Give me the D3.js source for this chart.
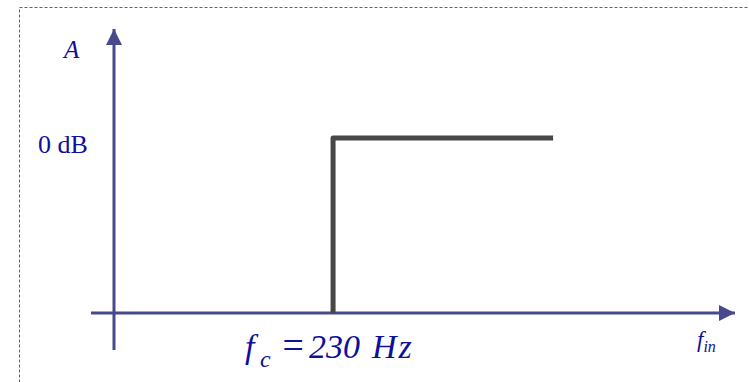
<!DOCTYPE html>
<html>
<head>
<meta charset="utf-8">
<script src="https://cdn.jsdelivr.net/npm/d3@7"></script>
<style>
  body { margin: 0; background: #fff; }
  svg { display: block; }
  text { font-family: "Liberation Serif", "Times New Roman", serif; fill: #0f0f9a; }
</style>
</head>
<body>
<svg id="chart" width="749" height="382"></svg>
<script>
// high-pass response: cutoff and passband
let cutoff = 230,
    fEnd = 461,
    fMax = 652;
let response = [[cutoff, 0], [cutoff, 1], [fEnd, 1]];
let yTicks = ["0 dB"];

let width = 749,
    height = 382;

function make_scales() {
  return {
    x: d3.scaleLinear().domain([0, fMax]).range([114, 735]),
    y: d3.scaleLinear().domain([0, 1]).range([313, 138])
  }
}

function draw(scales) {
  let svg = d3.select("#chart");
  let axisColor = "#474a8c";

  // dashed frame
  svg.append("rect")
    .attr("x", 19.5).attr("y", 7.5)
    .attr("width", 760).attr("height", 400)
    .attr("fill", "none")
    .attr("stroke", "#5a5a96")
    .attr("stroke-width", 1)
    .attr("stroke-dasharray", "3,2");

  let defs = svg.append("defs");
  defs.append("marker")
    .attr("id", "arrow")
    .attr("viewBox", "0 0 10 10")
    .attr("refX", 10).attr("refY", 5)
    .attr("markerUnits", "userSpaceOnUse")
    .attr("markerWidth", 16).attr("markerHeight", 16)
    .attr("orient", "auto")
    .append("path")
    .attr("d", "M0,0 L10,5 L0,10 Z")
    .attr("fill", axisColor);

  let x0 = scales.x(0), y0 = scales.y(0);

  // axes
  svg.append("line")
    .attr("x1", x0).attr("y1", 350)
    .attr("x2", x0).attr("y2", 29)
    .attr("stroke", axisColor).attr("stroke-width", 3)
    .attr("marker-end", "url(#arrow)");
  svg.append("line")
    .attr("x1", 91).attr("y1", y0)
    .attr("x2", scales.x(fMax)).attr("y2", y0)
    .attr("stroke", axisColor).attr("stroke-width", 3)
    .attr("marker-end", "url(#arrow)");

  // response curve
  let line = d3.line()
    .x(d => scales.x(d[0]))
    .y(d => scales.y(d[1]));
  svg.append("path")
    .attr("d", line(response))
    .attr("fill", "none")
    .attr("stroke", "#484848")
    .attr("stroke-width", 5)
    .attr("stroke-linejoin", "round");

  // labels
  svg.append("text")
    .attr("x", 64).attr("y", 58)
    .attr("font-size", 25).attr("font-style", "italic")
    .text("A");

  svg.selectAll(".ytick")
    .data(yTicks).enter()
    .append("text")
    .attr("class", "ytick")
    .attr("x", 38).attr("y", (d, i) => scales.y(1 - i) + 15)
    .attr("font-size", 26)
    .text(d => d);

  let fc = svg.append("text")
    .attr("y", 358)
    .attr("font-size", 34).attr("font-style", "italic");
  fc.append("tspan").attr("x", 245).text("f");
  fc.append("tspan").attr("x", 260).attr("font-size", 24).attr("dy", 9).text("c");
  fc.append("tspan").attr("x", 280).attr("dy", -9).attr("font-size", 38).text("=");
  fc.append("tspan").attr("x", 309).text(cutoff);
  fc.append("tspan").attr("x", 372).attr("letter-spacing", 2).text("Hz");

  let fin = svg.append("text")
    .attr("x", 697).attr("y", 347)
    .attr("font-size", 23).attr("font-style", "italic");
  fin.append("tspan").text("f");
  fin.append("tspan").attr("font-size", 16).attr("dy", 5).text("in");
}

draw(make_scales());
</script>
</body>
</html>
